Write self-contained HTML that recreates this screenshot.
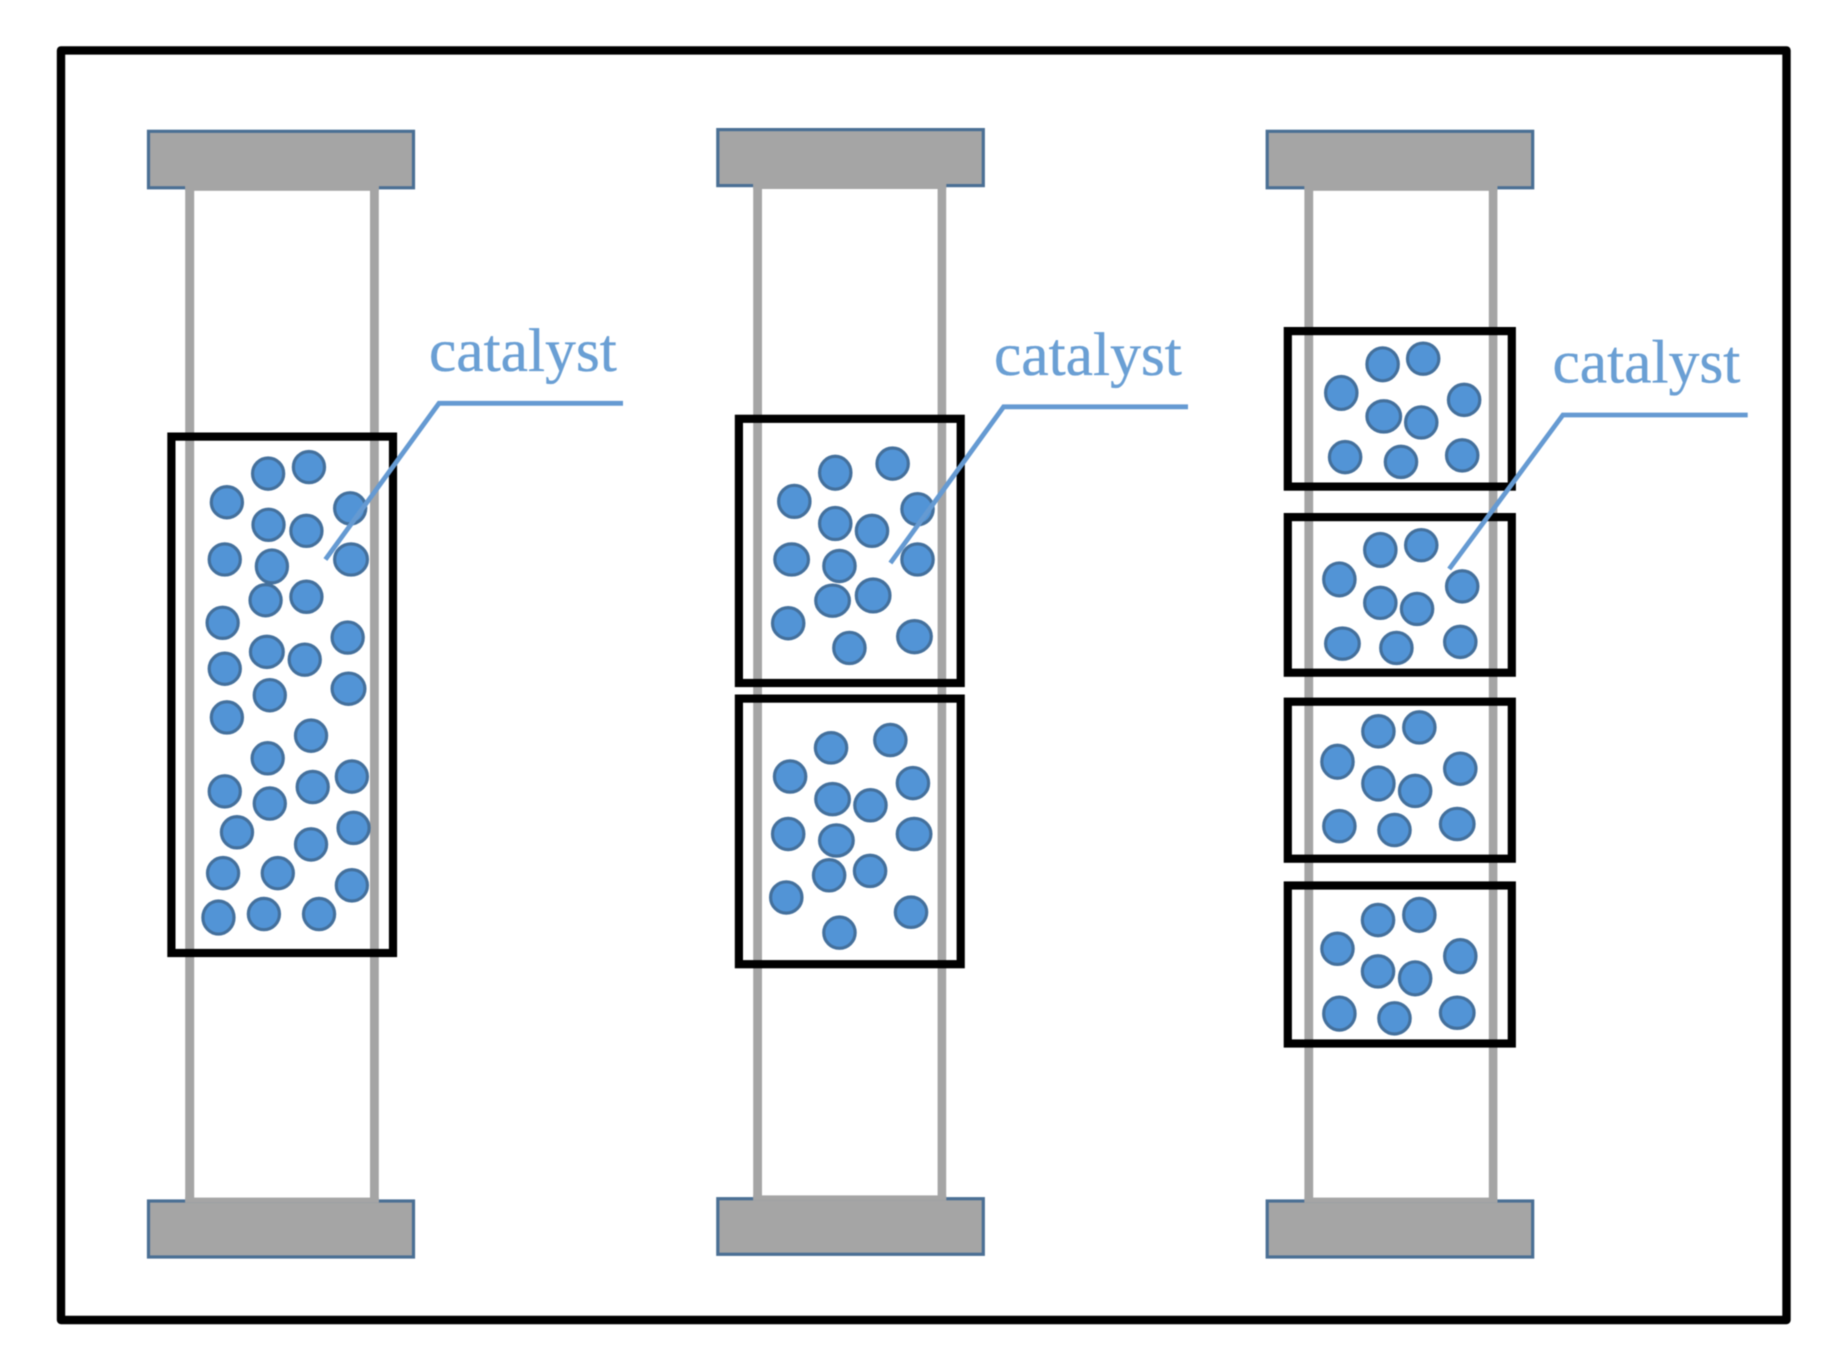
<!DOCTYPE html>
<html>
<head>
<meta charset="utf-8">
<style>
html,body{margin:0;padding:0;background:#fff;width:1833px;height:1362px;overflow:hidden}
svg{display:block;filter:blur(.6px)}
ellipse{fill:#5294d6;stroke:#44709c;stroke-width:3.2px;vector-effect:non-scaling-stroke}
.cap{fill:#a5a5a5;stroke:#4a6f94;stroke-width:3.2}
.g{fill:#a5a5a5}
.box{fill:none;stroke:#000;stroke-width:8.2}
.call{fill:none;stroke:#659ad2;stroke-width:4.8;stroke-linejoin:miter}
text{font-family:"Liberation Serif",serif;font-size:61.5px;fill:#6a9fd4;stroke:#6a9fd4;stroke-width:.35px}
</style>
</head>
<body>
<svg width="1833" height="1362" viewBox="0 0 1833 1362" xmlns="http://www.w3.org/2000/svg">
<rect width="1833" height="1362" fill="#fff"/>
<rect x="61" y="50.4" width="1725.5" height="1269.6" fill="none" stroke="#000" stroke-width="8.4" stroke-linejoin="round"/>

<!-- caps -->
<rect class="cap" x="148.5" y="131.3" width="265" height="56.5"/>
<rect class="cap" x="148.5" y="1201" width="265" height="56"/>
<rect class="cap" x="717.8" y="129.6" width="265.5" height="56"/>
<rect class="cap" x="717.8" y="1198.7" width="265.5" height="55.6"/>
<rect class="cap" x="1267.2" y="131.3" width="265.5" height="56.5"/>
<rect class="cap" x="1267.2" y="1201" width="265.5" height="56"/>

<!-- tubes and inner gray -->
<rect class="g" x="185.2" y="186" width="9" height="1016"/>
<rect class="g" x="370" y="186" width="8.8" height="1016"/>
<rect class="g" x="185.2" y="186" width="193.6" height="4.8"/>
<rect class="g" x="185.2" y="1197.6" width="193.6" height="5"/>

<rect class="g" x="753.2" y="184" width="8.8" height="1016"/>
<rect class="g" x="937.6" y="184" width="8.6" height="1016"/>
<rect class="g" x="753.2" y="184" width="193" height="5"/>
<rect class="g" x="753.2" y="1195.4" width="193" height="5"/>

<rect class="g" x="1304.4" y="186" width="8.8" height="1016"/>
<rect class="g" x="1488.8" y="186" width="8.6" height="1016"/>
<rect class="g" x="1304.4" y="186" width="193" height="4.8"/>
<rect class="g" x="1304.4" y="1197.6" width="193" height="5"/>

<!-- black boxes -->
<rect class="box" x="171.4" y="436.6" width="221.6" height="516.4"/>
<rect class="box" x="738.9" y="418.8" width="221.8" height="264.2"/>
<rect class="box" x="738.9" y="698.6" width="221.8" height="265.6"/>
<rect class="box" x="1287.8" y="331.1" width="224" height="155.5"/>
<rect class="box" x="1287.8" y="517.1" width="224" height="155.6"/>
<rect class="box" x="1287.8" y="701.7" width="224" height="157"/>
<rect class="box" x="1287.8" y="885.5" width="224" height="158"/>

<!-- column 1 particles -->
<g transform="translate(0,0) scale(.4209,.4337)">
<ellipse rx="37" ry="36" cx="637" cy="1092"/><ellipse rx="37" ry="36" cx="734" cy="1077"/><ellipse rx="37" ry="36" cx="539" cy="1158"/><ellipse rx="37" ry="36" cx="832" cy="1172"/><ellipse rx="37" ry="36" cx="638" cy="1210"/><ellipse rx="37" ry="36" cx="728" cy="1224"/><ellipse rx="37" ry="36" cx="534" cy="1290"/><ellipse rx="39" ry="36" cx="834" cy="1290"/><ellipse rx="37" ry="38" cx="646" cy="1306"/><ellipse rx="37" ry="36" cx="631" cy="1384"/><ellipse rx="37" ry="36" cx="728" cy="1376"/><ellipse rx="37" ry="36" cx="529" cy="1436"/><ellipse rx="37" ry="36" cx="826" cy="1470"/><ellipse rx="39" ry="36" cx="634" cy="1503"/><ellipse rx="37" ry="36" cx="724" cy="1521"/><ellipse rx="37" ry="36" cx="534" cy="1542"/>
</g>
<g transform="translate(0,680) scale(.4209,.435)">
<ellipse rx="37" ry="36" cx="641" cy="35"/><ellipse rx="39" ry="36" cx="828" cy="20"/><ellipse rx="37" ry="36" cx="539" cy="86"/><ellipse rx="37" ry="36" cx="739" cy="128"/><ellipse rx="37" ry="36" cx="636" cy="180"/><ellipse rx="37" ry="36" cx="534" cy="256"/><ellipse rx="37" ry="36" cx="743" cy="246"/><ellipse rx="37" ry="36" cx="836" cy="222"/><ellipse rx="37" ry="36" cx="641" cy="284"/><ellipse rx="37" ry="36" cx="840" cy="340"/><ellipse rx="37" ry="36" cx="563" cy="350"/><ellipse rx="37" ry="36" cx="739" cy="378"/><ellipse rx="37" ry="36" cx="530" cy="444"/><ellipse rx="37" ry="36" cx="660" cy="444"/><ellipse rx="37" ry="36" cx="836" cy="472"/><ellipse rx="37" ry="38" cx="519" cy="546"/><ellipse rx="37" ry="36" cx="627" cy="538"/><ellipse rx="37" ry="36" cx="758" cy="538"/>
</g>

<!-- column 2 particles -->
<g transform="translate(660,0) scale(.38265,.4337)">
<ellipse rx="41" ry="38" cx="458" cy="1090"/><ellipse rx="41" ry="36" cx="608" cy="1069"/><ellipse rx="41" ry="37" cx="351" cy="1156"/><ellipse rx="41" ry="36" cx="673" cy="1174"/><ellipse rx="41" ry="37" cx="458" cy="1207"/><ellipse rx="41" ry="36" cx="554" cy="1224"/><ellipse rx="44" ry="36" cx="344" cy="1290"/><ellipse rx="41" ry="36" cx="673" cy="1290"/><ellipse rx="41" ry="36" cx="469" cy="1305"/><ellipse rx="44" ry="36" cx="451" cy="1385"/><ellipse rx="44" ry="38" cx="557" cy="1373"/><ellipse rx="41" ry="36" cx="335" cy="1437"/><ellipse rx="44" ry="37" cx="665" cy="1468"/><ellipse rx="41" ry="36" cx="495" cy="1494"/>
</g>
<g transform="translate(660,680) scale(.38265,.4349)">
<ellipse rx="41" ry="35" cx="447" cy="156"/><ellipse rx="41" ry="36" cx="602" cy="138"/><ellipse rx="41" ry="36" cx="340" cy="222"/><ellipse rx="41" ry="36" cx="661" cy="237"/><ellipse rx="44" ry="36" cx="451" cy="274"/><ellipse rx="41" ry="36" cx="550" cy="288"/><ellipse rx="41" ry="36" cx="335" cy="354"/><ellipse rx="44" ry="36" cx="664" cy="354"/><ellipse rx="44" ry="36" cx="461" cy="369"/><ellipse rx="41" ry="36" cx="442" cy="449"/><ellipse rx="41" ry="36" cx="549" cy="439"/><ellipse rx="41" ry="36" cx="330" cy="500"/><ellipse rx="41" ry="35" cx="656" cy="534"/><ellipse rx="41" ry="36" cx="469" cy="581"/>
</g>

<!-- column 3 particles -->
<g transform="translate(1233,0) scale(.38265,.4337)">
<ellipse rx="41" ry="38" cx="391" cy="840"/><ellipse rx="41" ry="36" cx="497" cy="827"/><ellipse rx="41" ry="38" cx="283" cy="906"/><ellipse rx="41" ry="36" cx="604" cy="922"/><ellipse rx="44" ry="36" cx="394" cy="960"/><ellipse rx="41" ry="36" cx="492" cy="974"/><ellipse rx="41" ry="36" cx="293" cy="1054"/><ellipse rx="41" ry="36" cx="439" cy="1065"/><ellipse rx="41" ry="36" cx="599" cy="1050"/>
<ellipse rx="41" ry="38" cx="385" cy="1268"/><ellipse rx="41" ry="36" cx="492" cy="1257"/><ellipse rx="41" ry="38" cx="278" cy="1336"/><ellipse rx="41" ry="36" cx="599" cy="1352"/><ellipse rx="41" ry="36" cx="385" cy="1390"/><ellipse rx="41" ry="36" cx="481" cy="1404"/><ellipse rx="44" ry="36" cx="286" cy="1484"/><ellipse rx="41" ry="36" cx="427" cy="1494"/><ellipse rx="41" ry="36" cx="594" cy="1480"/>
</g>
<g transform="translate(1233,680) scale(.38265,.4349)">
<ellipse rx="41" ry="36" cx="380" cy="118"/><ellipse rx="41" ry="36" cx="487" cy="109"/><ellipse rx="41" ry="38" cx="273" cy="188"/><ellipse rx="41" ry="36" cx="594" cy="204"/><ellipse rx="41" ry="38" cx="380" cy="238"/><ellipse rx="41" ry="36" cx="476" cy="255"/><ellipse rx="41" ry="36" cx="278" cy="336"/><ellipse rx="41" ry="36" cx="422" cy="345"/><ellipse rx="44" ry="36" cx="586" cy="331"/>
<ellipse rx="41" ry="36" cx="379" cy="552"/><ellipse rx="41" ry="38" cx="487" cy="540"/><ellipse rx="41" ry="36" cx="273" cy="618"/><ellipse rx="41" ry="38" cx="594" cy="635"/><ellipse rx="41" ry="36" cx="379" cy="670"/><ellipse rx="41" ry="38" cx="476" cy="686"/><ellipse rx="41" ry="38" cx="278" cy="767"/><ellipse rx="41" ry="36" cx="422" cy="778"/><ellipse rx="44" ry="36" cx="586" cy="765"/>
</g>

<!-- callouts -->
<polyline class="call" points="623,403.3 439,403.3 325.4,559.5"/>
<polyline class="call" points="1188,406.8 1003.6,406.8 890.4,563"/>
<polyline class="call" points="1747.7,415 1562.9,415 1449.2,569"/>

<text x="429" y="371">catalyst</text>
<text x="994" y="375">catalyst</text>
<text x="1552.5" y="382.5">catalyst</text>
</svg>
</body>
</html>
